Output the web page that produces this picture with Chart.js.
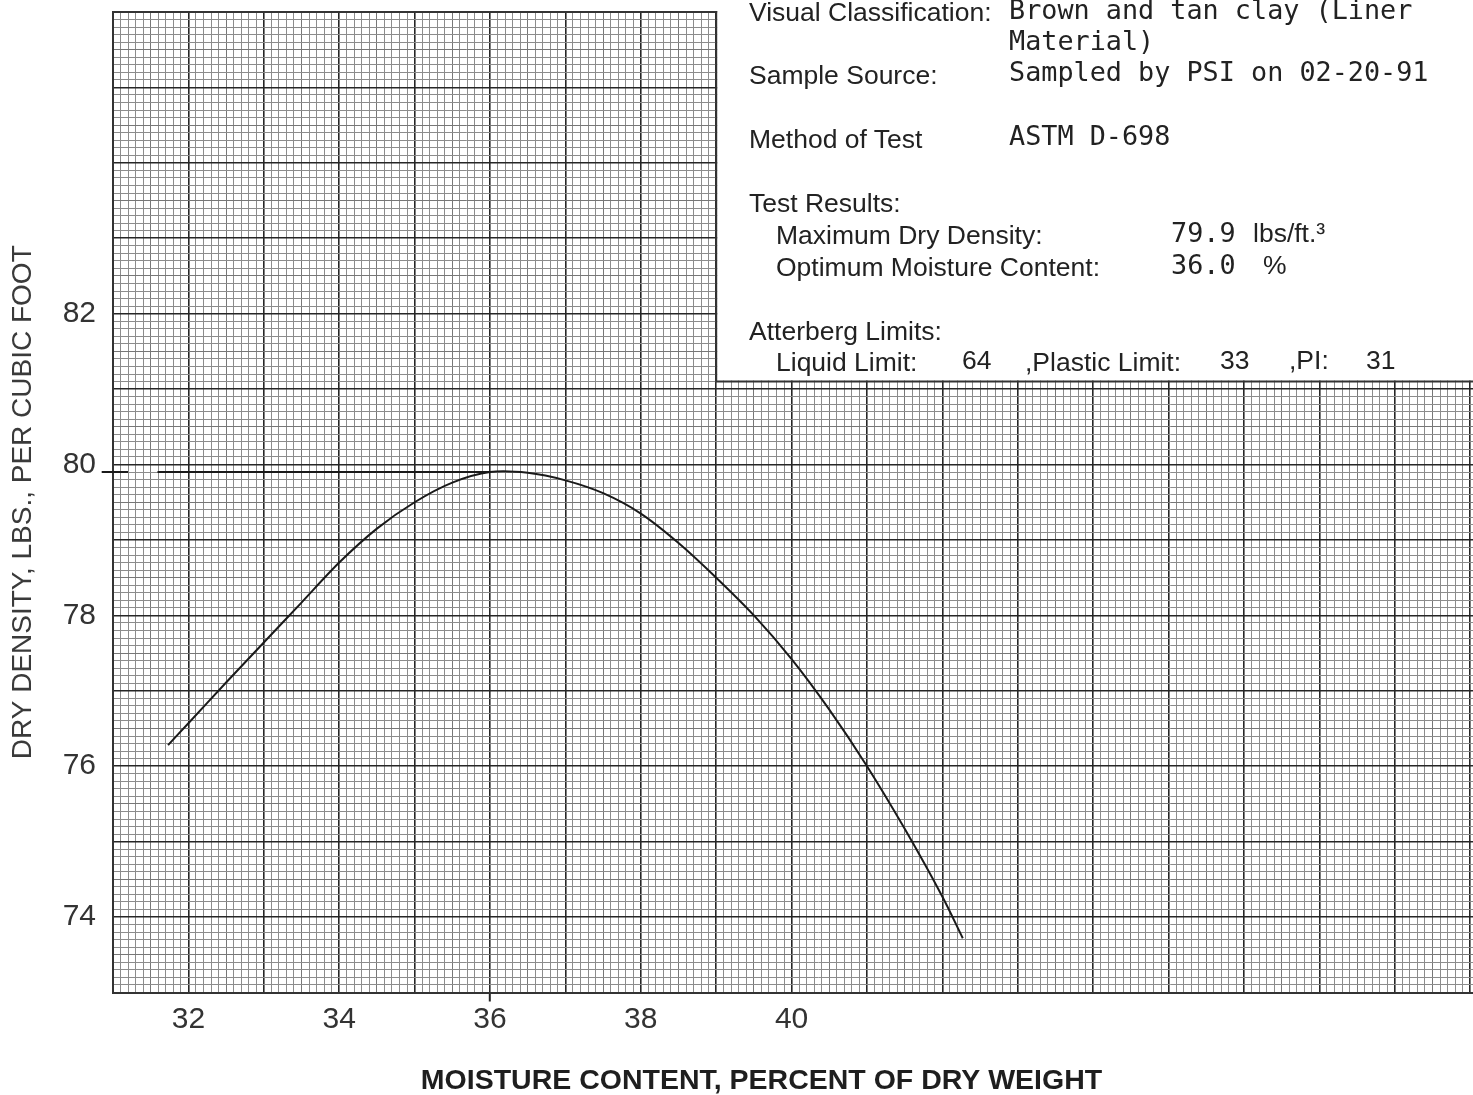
<!DOCTYPE html>
<html>
<head>
<meta charset="utf-8">
<title>Moisture-Density Relationship</title>
<script src="https://cdn.jsdelivr.net/npm/chart.js@4.4.1/dist/chart.umd.min.js"></script>
<style>
  html, body { margin: 0; padding: 0; background: #fff; overflow: hidden; }
  #wrap { position: relative; width: 1529px; height: 1095px; }
  #info { position: absolute; left: 0; top: 0; width: 1473px; height: 400px; color: #222; }
  #info span { position: absolute; white-space: pre; line-height: 30px; }
  .sans { font-family: "Liberation Sans", Arial, sans-serif; font-size: 26.5px; }
  .mono { font-family: "DejaVu Sans Mono", "Liberation Mono", monospace; font-size: 26.8px; }
</style>
</head>
<body>
<div id="wrap">
  <canvas id="myChart" width="1529" height="1095"></canvas>
  <div id="info">
    <span class="sans" style="left:749px;top:-3px">Visual Classification:</span>
    <span class="mono" style="left:1009px;top:-5px">Brown and tan clay (Liner</span>
    <span class="mono" style="left:1009px;top:26px">Material)</span>
    <span class="sans" style="left:749px;top:60px">Sample Source:</span>
    <span class="mono" style="left:1009px;top:57px">Sampled by PSI on 02-20-91</span>
    <span class="sans" style="left:749px;top:124px">Method of Test</span>
    <span class="mono" style="left:1009px;top:121px">ASTM D-698</span>
    <span class="sans" style="left:749px;top:188px">Test Results:</span>
    <span class="sans" style="left:776px;top:220px">Maximum Dry Density:</span>
    <span class="mono" style="left:1171px;top:218px">79.9</span>
    <span class="sans" style="left:1253px;top:218px">lbs/ft.³</span>
    <span class="sans" style="left:776px;top:252px">Optimum Moisture Content:</span>
    <span class="mono" style="left:1171px;top:250px">36.0</span>
    <span class="sans" style="left:1263px;top:250px">%</span>
    <span class="sans" style="left:749px;top:316px">Atterberg Limits:</span>
    <span class="sans" style="left:776px;top:347px">Liquid Limit:</span>
    <span class="sans" style="left:962px;top:345px">64</span>
    <span class="sans" style="left:1025px;top:347px">,Plastic Limit:</span>
    <span class="sans" style="left:1220px;top:345px">33</span>
    <span class="sans" style="left:1289px;top:345px">,PI:</span>
    <span class="sans" style="left:1366px;top:345px">31</span>
  </div>
</div>
<script>
// compaction curve (moisture %, dry density pcf)
const moisture = [31.73, 32.0, 32.5, 33.0, 33.5, 34.0, 34.5, 35.0, 35.5, 36.0, 36.5, 37.0, 37.5, 38.0, 38.5, 39.0, 39.5, 40.0, 40.5, 41.0, 41.5, 42.0, 42.27];
const density = [76.28, 76.57, 77.11, 77.64, 78.17, 78.70, 79.15, 79.50, 79.76, 79.90, 79.89, 79.79, 79.62, 79.35, 78.96, 78.50, 78.00, 77.42, 76.75, 76.00, 75.17, 74.27, 73.72];

// max dry density line at 79.9 (short dash left of the axis, then the line)
const maxLineX = [30.85, 31.2, 31.4, 31.59, 36.0];
const maxLineY = [79.9, 79.9, null, 79.9, 79.9];

const xTickLabels = [32, 34, 36, 38, 40];
const yTickLabels = [74, 76, 78, 80, 82];

const labelFont = { family: '"Liberation Sans Narrow", "Liberation Sans", sans-serif', size: 30 };

function tenths(ctx) {
  return ctx.tick ? Math.round(ctx.tick.value * 10) : 1;
}
function gridColor(ctx) {
  const t = tenths(ctx);
  if (t % 10 === 0) return '#262626';
  if (t % 5 === 0) return '#777';
  return '#8c8c8c';
}
function gridWidth(ctx) {
  return tenths(ctx) % 10 === 0 ? 1.6 : 1;
}

// blank corner of the graph paper where the test data is typed
const paperCut = {
  id: 'paperCut',
  beforeDatasetsDraw(chart) {
    const { ctx, chartArea } = chart;
    const cx = chart.scales.x.getPixelForValue(39);
    const cy = chart.scales.y.getPixelForValue(81.1);
    ctx.save();
    ctx.fillStyle = '#fff';
    ctx.fillRect(cx + 1, 0, chart.width - cx, cy - 1);
    ctx.strokeStyle = '#333';
    ctx.lineWidth = 2;
    ctx.beginPath();
    ctx.moveTo(chartArea.left, chartArea.top);
    ctx.lineTo(cx, chartArea.top);
    ctx.lineTo(cx, cy);
    ctx.lineTo(chart.width, cy);
    ctx.stroke();
    ctx.restore();
  }
};

// keep the plot edges where the paper edges are (no room kept for end labels)
function noEdgePadding(s) {
  s.paddingTop = 0;
  s.paddingBottom = 0;
  s.paddingLeft = 0;
  s.paddingRight = 0;
}

const myChartRef = document.getElementById('myChart').getContext('2d');

new Chart(myChartRef, {
  type: 'line',
  data: {
    datasets: [
      {
        label: 'Compaction curve',
        data: moisture.map((m, i) => ({ x: m, y: density[i] })),
        borderColor: '#1a1a1a',
        borderWidth: 2,
        pointRadius: 0,
        tension: 0.3,
        fill: false
      },
      {
        label: 'Maximum dry density',
        data: maxLineX.map((m, i) => ({ x: m, y: maxLineY[i] })),
        borderColor: '#1a1a1a',
        borderWidth: 2,
        pointRadius: 0,
        spanGaps: false,
        clip: false,
        fill: false
      }
    ]
  },
  options: {
    responsive: false,
    animation: false,
    layout: { padding: { top: 12, right: 6, bottom: 0, left: 0 } },
    plugins: {
      legend: { display: false },
      tooltip: { enabled: false },
      title: {
        display: true,
        position: 'bottom',
        text: 'MOISTURE CONTENT, PERCENT OF DRY WEIGHT',
        color: '#1e1e1e',
        font: { family: '"Liberation Sans", Arial, sans-serif', size: 28.5, weight: 'bold', lineHeight: 1 },
        padding: { top: 0, bottom: 0 }
      }
    },
    scales: {
      x: {
        type: 'linear',
        min: 31,
        max: 49.7,
        ticks: {
          stepSize: 0.1,
          autoSkip: false,
          minRotation: 0,
          maxRotation: 0,
          padding: 0,
          color: '#333',
          font: labelFont,
          callback: v => xTickLabels.includes(Math.round(v * 10) / 10) ? String(Math.round(v)) : ''
        },
        grid: {
          color: gridColor,
          lineWidth: gridWidth,
          tickLength: 9,
          tickWidth: 2,
          tickColor: ctx => tenths(ctx) === 360 ? '#222' : 'rgba(0,0,0,0)'
        },
        border: { color: '#333', width: 2 },
        afterFit: s => { noEdgePadding(s); s.height = 74; }
      },
      y: {
        type: 'linear',
        min: 73,
        max: 86,
        ticks: {
          stepSize: 0.1,
          autoSkip: false,
          padding: 17,
          color: '#333',
          font: labelFont,
          callback: v => yTickLabels.includes(Math.round(v * 10) / 10) ? String(Math.round(v)) : ''
        },
        grid: {
          color: gridColor,
          lineWidth: gridWidth,
          drawTicks: false
        },
        border: { color: '#333', width: 2 },
        title: {
          display: true,
          text: 'DRY DENSITY, LBS., PER CUBIC FOOT',
          color: '#3a3a3a',
          font: { family: '"Liberation Sans", Arial, sans-serif', size: 28 },
          padding: { top: 6, bottom: 0 }
        },
        afterFit: s => { noEdgePadding(s); s.width = 113; }
      }
    }
  },
  plugins: [paperCut]
});
</script>
</body>
</html>
